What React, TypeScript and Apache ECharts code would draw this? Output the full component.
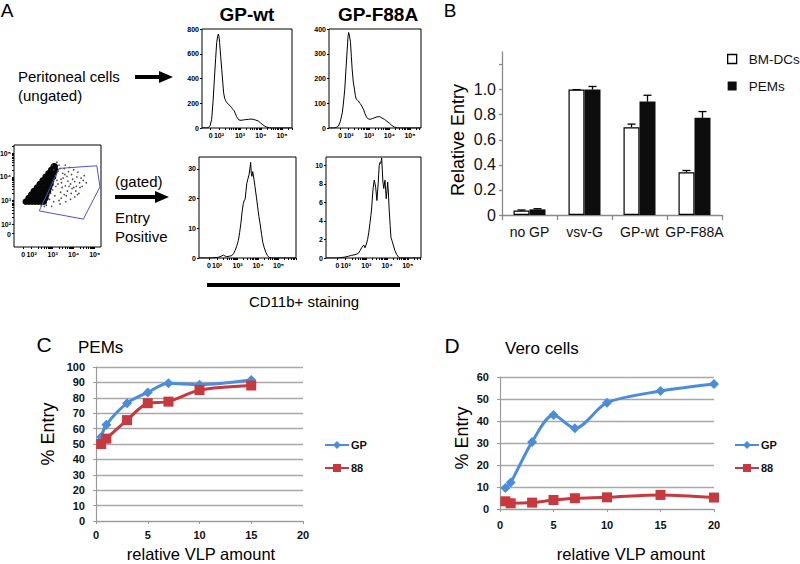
import React, { useEffect, useRef } from 'react';
import * as echarts from 'echarts';

const FONT = '"Liberation Sans", Arial, Helvetica, sans-serif';
const BLUE = '#4a8ddc';
const RED = '#c8383f';
const AXIS_GRAY = '#9a9a9a';

// ---------- Panel A: CD11b histograms (x in decades of the biexponential axis) ----------
const wtUngated: [number, number][] = [
  [1.19, 0], [1.3, 2], [1.4, 0], [1.49, 3], [1.58, 20], [1.65, 70], [1.72, 220], [1.78, 395], [1.84, 560],
  [1.89, 690], [1.94, 745], [1.97, 760], [2.0, 740], [2.03, 690], [2.08, 580], [2.13, 475], [2.18, 370],
  [2.22, 285], [2.27, 240], [2.32, 220], [2.38, 205], [2.45, 190], [2.52, 182], [2.6, 165], [2.66, 150],
  [2.73, 138], [2.78, 115], [2.84, 92], [2.9, 75], [2.95, 65], [3.05, 62], [3.16, 65], [3.28, 68], [3.4, 70],
  [3.52, 72], [3.63, 70], [3.75, 64], [3.87, 57], [3.97, 42], [4.06, 30], [4.15, 18], [4.27, 8], [4.4, 2],
  [4.5, 0], [5.48, 0],
];
const f88Ungated: [number, number][] = [
  [1.05, 0], [1.3, 0], [1.42, 3], [1.51, 8], [1.6, 25], [1.7, 62], [1.76, 105], [1.82, 157], [1.88, 240],
  [1.94, 319], [1.98, 370], [2.01, 386], [2.05, 372], [2.1, 346], [2.14, 290], [2.18, 238], [2.23, 190],
  [2.29, 157], [2.34, 130], [2.38, 116], [2.44, 112], [2.49, 109], [2.55, 100], [2.6, 96], [2.67, 85],
  [2.73, 76], [2.8, 60], [2.89, 42], [2.97, 37], [3.05, 35], [3.17, 38], [3.29, 42], [3.4, 45], [3.52, 46],
  [3.64, 40], [3.76, 35], [3.88, 27], [4.0, 19], [4.12, 10], [4.24, 4], [4.4, 0], [5.54, 0],
];
const wtGated: [number, number][] = [
  [1.12, 0], [1.6, 0], [1.9, 0.1], [2.05, 0.2], [2.2, 0.6], [2.31, 1.0], [2.4, 0.6], [2.47, 0.45], [2.6, 0.6],
  [2.72, 0.8], [2.8, 1.4], [2.88, 2.5], [2.96, 4.0], [3.04, 5.9], [3.1, 8.5], [3.17, 12.1], [3.22, 15.5],
  [3.28, 18.3], [3.33, 19.5], [3.37, 19.8], [3.41, 22.5], [3.45, 25.1], [3.5, 26.5], [3.56, 28], [3.6, 30],
  [3.64, 32.2], [3.67, 28.5], [3.7, 27.5], [3.74, 29.1], [3.8, 26.5], [3.85, 24], [3.92, 20.5], [3.98, 17.2],
  [4.04, 14], [4.1, 11.5], [4.17, 8], [4.23, 5.3], [4.3, 3.5], [4.38, 1.9], [4.46, 0.8], [4.54, 0.2],
  [4.65, 0], [5.85, 0],
];
const f88Gated: [number, number][] = [
  [1.05, 0], [1.6, 0], [1.97, 0.1], [2.15, 0.2], [2.29, 0.3], [2.45, 0.35], [2.61, 0.5], [2.7, 0.8],
  [2.77, 1.1], [2.83, 1.3], [2.88, 1.4], [2.93, 1.1], [3.0, 1.5], [3.06, 2.0], [3.12, 2.8], [3.17, 3.7],
  [3.22, 4.6], [3.26, 5.5], [3.3, 6.8], [3.33, 7.6], [3.38, 8.4], [3.42, 8.0], [3.45, 7.6], [3.51, 6.2],
  [3.57, 8.0], [3.62, 10.0], [3.66, 10.3], [3.69, 10.2], [3.72, 10.5], [3.74, 10.8], [3.77, 9.5], [3.8, 8.2],
  [3.84, 7.5], [3.9, 8.4], [3.96, 6.4], [4.0, 7.3], [4.03, 8.2], [4.07, 6.8], [4.1, 5.3], [4.15, 3.5],
  [4.19, 2.2], [4.25, 1.8], [4.3, 1.4], [4.38, 0.8], [4.46, 0.4], [4.55, 0.1], [4.62, 0], [5.64, 0],
];
// scatter (x = CD11b decades, y = entry reporter decades)
const scatterCore: [number, number][] = [
  [1.72, 2.95], [1.87, 2.95], [2.02, 2.95], [2.17, 2.95], [2.32, 2.95], [2.47, 2.95], [2.58, 2.95],
  [1.85, 3.1], [2.0, 3.1], [2.15, 3.1], [2.3, 3.1], [2.45, 3.1], [2.6, 3.1], [2.66, 3.1],
  [1.98, 3.25], [2.13, 3.25], [2.28, 3.25], [2.43, 3.25], [2.58, 3.25], [2.7, 3.25],
  [2.1, 3.4], [2.25, 3.4], [2.4, 3.4], [2.55, 3.4], [2.7, 3.4], [2.78, 3.4],
  [2.25, 3.55], [2.4, 3.55], [2.55, 3.55], [2.7, 3.55], [2.83, 3.55],
  [2.38, 3.7], [2.52, 3.7], [2.66, 3.7], [2.8, 3.7], [2.9, 3.7],
  [2.52, 3.85], [2.66, 3.85], [2.8, 3.85], [2.93, 3.85],
  [2.66, 4.0], [2.8, 4.0], [2.94, 4.0], [3.02, 4.0],
  [2.8, 4.15], [2.94, 4.15], [3.06, 4.15],
  [2.93, 4.3], [3.05, 4.3], [3.12, 4.3],
  [3.05, 4.45], [3.1, 4.45],
];
const scatterSparse: [number, number][] = [
  [2.95, 2.75], [3.05, 2.95], [3.1, 3.2], [3.0, 3.45], [3.15, 3.6], [3.2, 3.85], [3.12, 4.05], [3.25, 4.25],
  [3.3, 4.5], [3.2, 4.62], [3.35, 2.85], [3.4, 3.1], [3.38, 3.35], [3.45, 3.55], [3.42, 3.75], [3.5, 3.95],
  [3.48, 4.15], [3.55, 4.35], [3.6, 4.5], [3.62, 2.95], [3.65, 3.2], [3.7, 3.4], [3.6, 3.62], [3.72, 3.82],
  [3.68, 4.02], [3.75, 4.22], [3.8, 4.4], [3.85, 3.05], [3.88, 3.3], [3.92, 3.5], [3.85, 3.7], [3.95, 3.9],
  [3.9, 4.1], [4.0, 4.3], [4.05, 3.15], [4.1, 3.4], [4.12, 3.6], [4.05, 3.8], [4.15, 4.0], [4.2, 4.2],
  [4.25, 3.3], [4.3, 3.55], [4.28, 3.75], [4.35, 3.95], [4.4, 3.6], [4.45, 3.85], [4.5, 4.05],
  [2.7, 2.8], [2.85, 3.05], [2.9, 3.3], [3.0, 3.75], [3.05, 4.3], [2.6, 2.75], [2.45, 2.78], [3.3, 3.0],
  [3.55, 3.25], [3.78, 3.6], [4.0, 3.55], [3.25, 3.7], [3.4, 3.9], [3.58, 4.1], [3.35, 4.35], [2.98, 4.5],
  [4.6, 3.75], [4.18, 3.25],
];
const gatePolygon: [number, number][] = [
  [3.31, 4.36], [5.1, 4.47], [5.25, 3.58], [4.46, 2.21], [2.36, 2.56], [3.31, 4.36],
];
const histTickValues = [1.6, 2, 3, 4, 5];
const histTickLabels = ['0', '10²', '10³', '10⁴', '10⁵'];

// ---------- Panel B ----------
const bCategories = ['no GP', 'vsv-G', 'GP-wt', 'GP-F88A'];
const bmDCs = [0.035, 1.0, 0.70, 0.34];
const bmDCsErrTop = [0.04, 1.0, 0.725, 0.355];
const pems = [0.045, 1.0, 0.905, 0.775];
const pemsErrTop = [0.05, 1.025, 0.955, 0.825];
const bTicks = [0, 0.2, 0.4, 0.6, 0.8, 1.0, 1.2];
const bLabels = [0, 0.2, 0.4, 0.6, 0.8, 1.0];

// ---------- Panel C (PEMs) ----------
const cX = [0.5, 1, 3, 5, 7, 10, 15];
const cGP = [54.5, 62.5, 76.5, 83.5, 89.5, 88.5, 91.5];
const c88 = [50, 53.5, 65.5, 76.5, 77.5, 85, 88];

// ---------- Panel D (Vero cells) ----------
const dX = [0.5, 1, 3, 5, 7, 10, 15, 20];
const dGP = [9.5, 12, 30.5, 42.7, 36.7, 48.3, 53.6, 56.8];
const d88 = [3.5, 2.6, 2.9, 4.1, 4.9, 5.3, 6.4, 5.2];

const zip = (xs: number[], ys: number[]) => xs.map((x, i) => [x, ys[i]]);

function logMinorTicks(min: number, max: number) {
  const out: number[] = [];
  for (let d = 2; d <= 5; d++) {
    for (let k = 1; k <= 9; k++) {
      const v = d + Math.log10(k);
      if (v > min && v < max) out.push(v);
    }
  }
  out.push(1.6);
  return out;
}

function decadeLabel(v: number) {
  let best = 0;
  for (let i = 0; i < histTickValues.length; i++) {
    if (Math.abs(histTickValues[i] - v) < Math.abs(histTickValues[best] - v)) best = i;
  }
  return histTickLabels[best];
}

function histX(gridIndex: number, min: number, max: number) {
  return {
    type: 'value', gridIndex, min, max,
    axisLine: { show: false },
    splitLine: { show: false },
    axisTick: { show: true, length: 2, lineStyle: { color: '#000', width: 1 }, customValues: logMinorTicks(min, max) },
    axisLabel: {
      fontSize: 7, fontWeight: 'bold', fontFamily: FONT, color: '#000', margin: 4,
      customValues: histTickValues.filter((v) => v > min && v < max), formatter: (v: number) => decadeLabel(v),
    },
  };
}
function histY(gridIndex: number, max: number, ticks: number[]) {
  return {
    type: 'value', gridIndex, min: 0, max,
    axisLine: { show: false },
    splitLine: { show: false },
    axisTick: { show: true, length: 2, lineStyle: { color: '#000', width: 1 }, customValues: ticks },
    axisLabel: { fontSize: 7, fontWeight: 'bold', fontFamily: FONT, color: '#000', margin: 3, customValues: ticks },
  };
}
const boxGrid = (left: number, top: number, width: number, height: number) => ({
  left, top, width, height, show: true, borderColor: '#000', borderWidth: 1, backgroundColor: 'transparent',
  containLabel: false, outerBoundsMode: 'none',
});

function txt(text: string, x: number, y: number, font: string, align = 'left', rotation = 0) {
  return {
    type: 'text', x, y, rotation, silent: true,
    style: { text, font, fill: '#000', textAlign: align, textVerticalAlign: 'middle' },
  };
}

export default function App() {
  const ref = useRef<HTMLDivElement>(null);
  useEffect(() => {
    if (!ref.current) return;
    const chart = echarts.init(ref.current, null, { renderer: 'svg' });
    const histLine = (i: number, data: [number, number][]) => ({
      type: 'line', xAxisIndex: i, yAxisIndex: i, data, symbol: 'none', showSymbol: false, silent: true,
      lineStyle: { color: '#000', width: 1 }, clip: true,
    });
    const errSeries = (name: string, vals: number[], tops: number[], off: number) => ({
      type: 'custom', name: name + '-err', xAxisIndex: 5, yAxisIndex: 5, silent: true, z: 5,
      data: vals.map((v, i) => [i, v, tops[i]]),
      renderItem: (_p: any, api: any) => {
        const p0 = api.coord([api.value(0), api.value(1)]);
        const p1 = api.coord([api.value(0), api.value(2)]);
        const x = p0[0] + off;
        return {
          type: 'group',
          children: [
            { type: 'line', shape: { x1: x, y1: p0[1], x2: x, y2: p1[1] }, style: { stroke: '#000', lineWidth: 1.3 } },
            { type: 'line', shape: { x1: x - 4, y1: p1[1], x2: x + 4, y2: p1[1] }, style: { stroke: '#000', lineWidth: 1.3 } },
          ],
        };
      },
    });
    const lineAxisX = (gridIndex: number, labelMargin: number) => ({
      type: 'value', gridIndex, min: 0, max: 20, interval: 5,
      axisLine: { show: true, lineStyle: { color: AXIS_GRAY, width: 1.2 } },
      axisTick: { show: true, length: 3, lineStyle: { color: AXIS_GRAY } },
      splitLine: { show: false },
      axisLabel: { fontSize: 11, fontWeight: 'bold', fontFamily: FONT, color: '#111', margin: labelMargin },
    });
    const lineAxisY = (gridIndex: number, max: number) => ({
      type: 'value', gridIndex, min: 0, max, interval: 10,
      axisLine: { show: true, lineStyle: { color: AXIS_GRAY, width: 1.2 } },
      axisTick: { show: true, length: 3, lineStyle: { color: AXIS_GRAY } },
      splitLine: { show: true, lineStyle: { color: '#a8a8a8', width: 1.3 } },
      axisLabel: { fontSize: 11, fontWeight: 'bold', fontFamily: FONT, color: '#111', margin: 11 },
    });
    const lineSeries = (name: string, i: number, xs: number[], ys: number[], color: string, symbol: string, size: number) => ({
      type: 'line', name, xAxisIndex: i, yAxisIndex: i, data: zip(xs, ys), smooth: 0.3,
      symbol, symbolSize: size, showSymbol: true,
      lineStyle: { color, width: 3 }, itemStyle: { color }, z: symbol === 'diamond' ? 3 : 4,
    });

    const option: any = {
      animation: false,
      backgroundColor: '#fff',
      textStyle: { fontFamily: FONT },
      grid: [
        boxGrid(202, 29, 90, 99),
        boxGrid(329, 29, 92, 99),
        boxGrid(199, 157, 97, 101),
        boxGrid(326, 157, 95, 101),
        boxGrid(14, 145, 87, 102),
        { left: 502, top: 52, width: 220, height: 163, containLabel: false, outerBoundsMode: 'none' },
        { left: 96, top: 367, width: 207, height: 154, containLabel: false, outerBoundsMode: 'none' },
        { left: 500, top: 377, width: 214, height: 132, containLabel: false, outerBoundsMode: 'none' },
      ],
      xAxis: [
        histX(0, 1.19, 5.48),
        histX(1, 1.05, 5.54),
        histX(2, 1.12, 5.85),
        histX(3, 1.05, 5.64),
        histX(4, 1.16, 5.3),
        {
          type: 'category', gridIndex: 5, data: bCategories, boundaryGap: true,
          axisLine: { show: true, lineStyle: { color: '#8a8a8a', width: 1.3 } },
          axisTick: { show: true, length: 5, inside: false, alignWithLabel: false, interval: 0, lineStyle: { color: '#8a8a8a', width: 1.3 } },
          axisLabel: { fontSize: 14, color: '#111', margin: 10, fontFamily: FONT, interval: 0 },
          splitLine: { show: false },
        },
        lineAxisX(6, 8),
        lineAxisX(7, 10),
      ],
      yAxis: [
        histY(0, 800, [0, 200, 400, 600, 800]),
        histY(1, 400, [0, 100, 200, 300, 400]),
        histY(2, 34, [0, 10, 20, 30]),
        histY(3, 10.9, [0, 2, 4, 6, 8, 10]),
        {
          type: 'value', gridIndex: 4, min: 1.03, max: 5.35,
          axisLine: { show: false }, splitLine: { show: false },
          axisTick: { show: true, length: 2, lineStyle: { color: '#000' }, customValues: logMinorTicks(1.03, 5.35) },
          axisLabel: {
            fontSize: 7, fontWeight: 'bold', fontFamily: FONT, color: '#000', margin: 3,
            customValues: [1.56, 2, 3, 4, 5], formatter: (v: number) => (v < 1.8 ? '0' : decadeLabel(v)),
          },
        },
        {
          type: 'value', gridIndex: 5, min: 0, max: 1.3,
          axisLine: { show: true, lineStyle: { color: '#8a8a8a', width: 1.3 } },
          axisTick: { show: true, length: 3, lineStyle: { color: '#8a8a8a', width: 1.3 }, customValues: bTicks },
          splitLine: { show: false },
          axisLabel: {
            fontSize: 16, color: '#111', margin: 6, fontFamily: FONT, customValues: bLabels,
            formatter: (v: number) => (v === 0 ? '0' : v.toFixed(1)),
          },
        },
        lineAxisY(6, 100),
        lineAxisY(7, 60),
      ],
      legend: [
        {
          left: 727, top: 52, orient: 'vertical', padding: 0, itemWidth: 9, itemHeight: 9, itemGap: 13,
          selectedMode: false,
          textStyle: { fontSize: 13.5, fontFamily: FONT, color: '#111', padding: [0, 0, 0, 7], lineHeight: 14 },
          data: [
            { name: 'BM-DCs', icon: 'rect', itemStyle: { color: '#fff', borderColor: '#000', borderWidth: 1.3 } },
            { name: 'PEMs', icon: 'rect', itemStyle: { color: '#0d0d0d' } },
          ],
        },
        {
          left: 324, top: 439, orient: 'vertical', padding: 0, itemWidth: 24, itemHeight: 10, itemGap: 11,
          selectedMode: false,
          textStyle: { fontSize: 11, fontWeight: 'bold', fontFamily: FONT, color: '#111', lineHeight: 12, padding: [0, 0, 0, -3] },
          data: ['GP', '88'],
        },
        {
          left: 734, top: 439, orient: 'vertical', padding: 0, itemWidth: 24, itemHeight: 10, itemGap: 11,
          selectedMode: false,
          textStyle: { fontSize: 11, fontWeight: 'bold', fontFamily: FONT, color: '#111', lineHeight: 12, padding: [0, 0, 0, -3] },
          data: ['GP', '88'],
        },
      ],
      series: [
        histLine(0, wtUngated),
        histLine(1, f88Ungated),
        histLine(2, wtGated),
        histLine(3, f88Gated),
        {
          type: 'scatter', xAxisIndex: 4, yAxisIndex: 4, data: scatterCore, symbolSize: 6.5, silent: true,
          itemStyle: { color: '#080808', opacity: 1, borderWidth: 0 },
        },
        {
          type: 'scatter', xAxisIndex: 4, yAxisIndex: 4, data: scatterSparse, symbolSize: 1.6, silent: true,
          itemStyle: { color: '#444', opacity: 1, borderWidth: 0 },
        },
        {
          type: 'line', xAxisIndex: 4, yAxisIndex: 4, data: gatePolygon, symbol: 'none', silent: true,
          lineStyle: { color: '#4b55c8', width: 1 },
        },
        {
          type: 'bar', name: 'BM-DCs', xAxisIndex: 5, yAxisIndex: 5, data: bmDCs, barWidth: 16, barGap: '0%',
          itemStyle: { color: '#fff', borderColor: '#000', borderWidth: 1.2 },
        },
        {
          type: 'bar', name: 'PEMs', xAxisIndex: 5, yAxisIndex: 5, data: pems, barWidth: 16, barGap: '0%',
          itemStyle: { color: '#0d0d0d' },
        },
        errSeries('BM-DCs', bmDCs, bmDCsErrTop, -8),
        errSeries('PEMs', pems, pemsErrTop, 8),
        lineSeries('GP', 6, cX, cGP, BLUE, 'diamond', 10),
        lineSeries('88', 6, cX, c88, RED, 'rect', 10),
        lineSeries('GP', 7, dX, dGP, BLUE, 'diamond', 10),
        lineSeries('88', 7, dX, d88, RED, 'rect', 10),
      ],
      graphic: [
        txt('A', 7, 10, '19px ' + FONT, 'center'),
        txt('GP-wt', 247, 14, 'bold 19px ' + FONT, 'center'),
        txt('GP-F88A', 378, 14, 'bold 19px ' + FONT, 'center'),
        txt('Peritoneal cells', 18, 76, '15px ' + FONT),
        txt('(ungated)', 18, 95, '15px ' + FONT),
        { type: 'line', shape: { x1: 135, y1: 77, x2: 162, y2: 77 }, style: { stroke: '#000', lineWidth: 4 } },
        { type: 'polygon', shape: { points: [[159, 71], [173, 77], [159, 83]] }, style: { fill: '#000' } },
        txt('(gated)', 115, 181, '15px ' + FONT),
        { type: 'line', shape: { x1: 115, y1: 197, x2: 157, y2: 197 }, style: { stroke: '#000', lineWidth: 4 } },
        { type: 'polygon', shape: { points: [[155, 191], [169, 197], [155, 203]] }, style: { fill: '#000' } },
        txt('Entry', 115, 217, '15px ' + FONT),
        txt('Positive', 115, 236, '15px ' + FONT),
        { type: 'line', shape: { x1: 207, y1: 285, x2: 400, y2: 285 }, style: { stroke: '#000', lineWidth: 4 } },
        txt('CD11b+ staining', 304, 301, '15px ' + FONT, 'center'),
        txt('B', 450, 10, '19px ' + FONT, 'center'),
        txt('Relative Entry', 458, 140, '18px ' + FONT, 'center', Math.PI / 2),
        txt('C', 44, 344, '21px ' + FONT, 'center'),
        txt('PEMs', 78, 347, '17px ' + FONT),
        txt('% Entry', 48, 434, '18px ' + FONT, 'center', Math.PI / 2),
        txt('relative VLP amount', 201, 554, '16.5px ' + FONT, 'center'),
        txt('D', 452, 345, '21px ' + FONT, 'center'),
        txt('Vero cells', 505, 348, '17px ' + FONT),
        txt('% Entry', 462, 438, '18px ' + FONT, 'center', Math.PI / 2),
        txt('relative VLP amount', 631, 554, '16.5px ' + FONT, 'center'),
      ],
    };
    chart.setOption(option);
    return () => chart.dispose();
  }, []);
  return <div ref={ref} style={{ position: 'absolute', left: 0, top: 0, width: 800, height: 564, background: '#fff' }} />;
}
